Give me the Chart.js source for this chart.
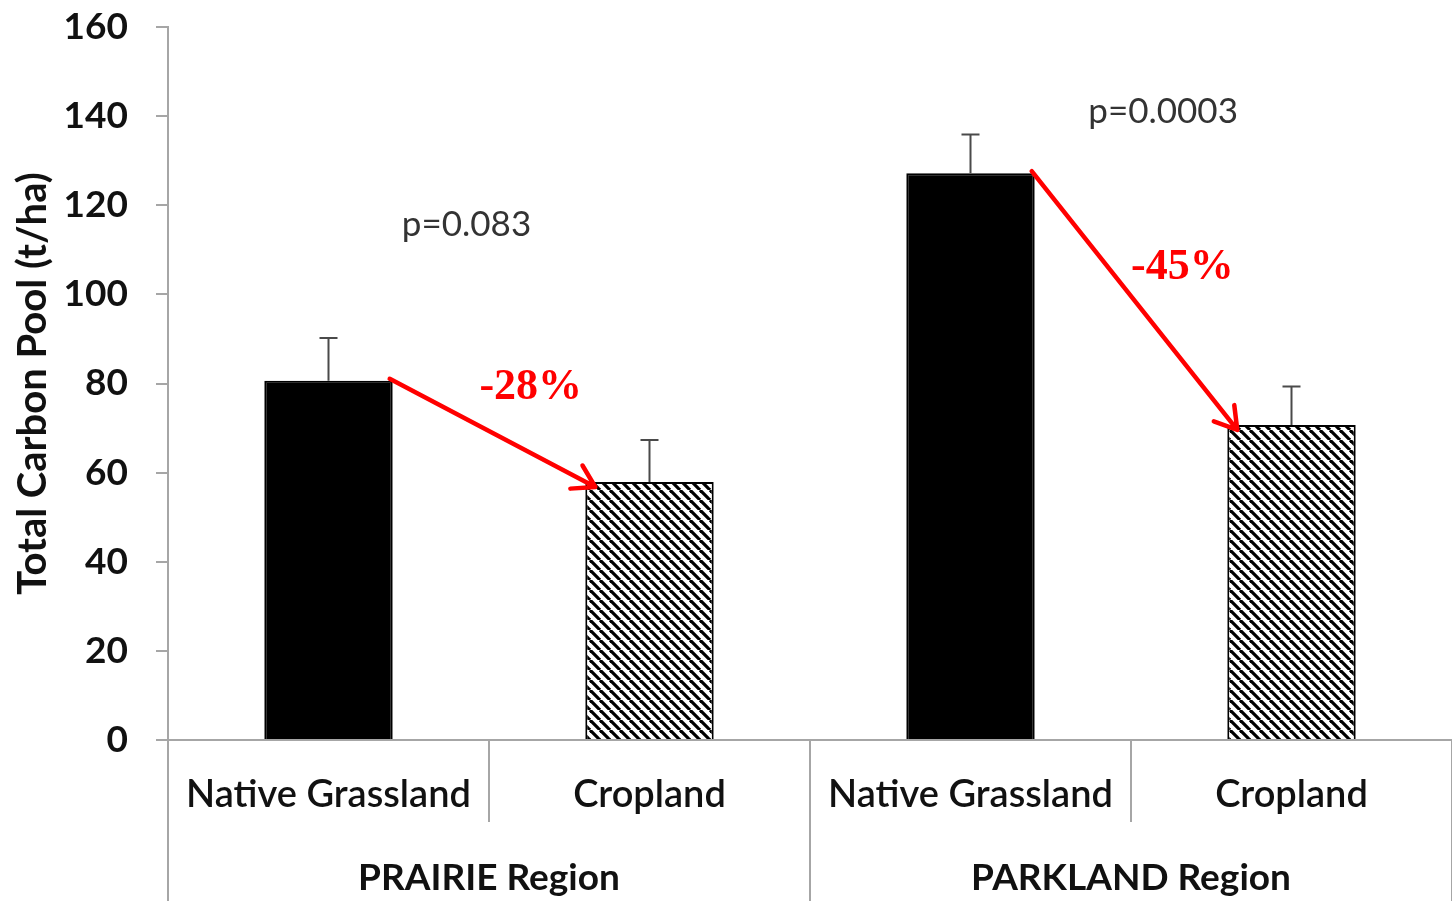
<!DOCTYPE html>
<html>
<head>
<meta charset="utf-8">
<script src="https://cdn.jsdelivr.net/npm/chart.js@4.4.1/dist/chart.umd.min.js"></script>
<style>
  html, body { margin: 0; padding: 0; background: #fff; }
  #wrap { width: 1452px; height: 901px; }
</style>
</head>
<body>
<div id="wrap"><canvas id="carbonChart"></canvas></div>
<script>
// chart data
const categories = ['Native Grassland', 'Cropland', 'Native Grassland', 'Cropland'];
const regions = ['PRAIRIE Region', 'PARKLAND Region'];
const carbonPool = [80.6, 57.9, 127.2, 70.7];
const errorUp = [9.6, 9.4, 8.7, 8.6];
const yTicks = [0, 20, 40, 60, 80, 100, 120, 140, 160];

// annotations: x as fractional category index, y in t/ha
const pLabels = [
    { text: 'p=0.083', x: 0.43, y: 115.6 },
    { text: 'p=0.0003', x: 2.6, y: 140.9 }
];
const changeLabels = [
    { text: '-28%', x: 0.63, y: 79.0, from: 0, to: 1 },
    { text: '-45%', x: 2.66, y: 105.9, from: 2, to: 3 }
];

function makeHatch() {
    const s = 10;
    const c = document.createElement('canvas');
    c.width = s; c.height = s;
    const g = c.getContext('2d');
    g.fillStyle = '#fff';
    g.fillRect(0, 0, s, s);
    g.strokeStyle = '#000';
    g.lineWidth = 3.2;
    [-s, 0, s].forEach(o => {
        g.beginPath();
        g.moveTo(o, 0);
        g.lineTo(o + s, s);
        g.stroke();
    });
    return g.createPattern(c, 'repeat');
}

const ctx = document.getElementById('carbonChart').getContext('2d');
const hatch = makeHatch();
const barFills = ['#000', hatch, '#000', hatch];

const extrasPlugin = {
    id: 'extras',
    afterDatasetsDraw(chart) {
        const c = chart.ctx;
        const xs = chart.scales.x;
        const ys = chart.scales.y;
        const meta = chart.getDatasetMeta(0);

        // error bars
        c.save();
        c.strokeStyle = '#4a4a4a';
        c.lineWidth = 2;
        meta.data.forEach((bar, i) => {
            const top = ys.getPixelForValue(carbonPool[i] + errorUp[i]);
            c.beginPath();
            c.moveTo(bar.x, bar.y);
            c.lineTo(bar.x, top);
            c.moveTo(bar.x - 9, top);
            c.lineTo(bar.x + 9, top);
            c.stroke();
        });
        c.restore();

        // p values
        c.save();
        c.fillStyle = '#333';
        c.font = '35px Lato, sans-serif';
        c.textAlign = 'center';
        c.textBaseline = 'middle';
        pLabels.forEach(p => {
            c.fillText(p.text, xs.getPixelForValue(p.x), ys.getPixelForValue(p.y));
        });
        c.restore();

        // red arrows and percent changes
        c.save();
        c.strokeStyle = '#ff0000';
        c.fillStyle = '#ff0000';
        c.lineWidth = 4.5;
        c.lineCap = 'round';
        c.lineJoin = 'round';
        changeLabels.forEach(a => {
            const b0 = meta.data[a.from];
            const b1 = meta.data[a.to];
            const x0 = b0.x + b0.width / 2 - 3;
            const y0 = b0.y - 2;
            const x1 = b1.x - b1.width / 2 + 10;
            const y1 = b1.y + 5;
            const ang = Math.atan2(y1 - y0, x1 - x0);
            c.beginPath();
            c.moveTo(x0, y0);
            c.lineTo(x1, y1);
            c.moveTo(x1 - 25 * Math.cos(ang - 0.55), y1 - 25 * Math.sin(ang - 0.55));
            c.lineTo(x1, y1);
            c.lineTo(x1 - 25 * Math.cos(ang + 0.55), y1 - 25 * Math.sin(ang + 0.55));
            c.stroke();
            c.font = 'bold 44px "Liberation Serif", serif';
            c.textAlign = 'center';
            c.textBaseline = 'middle';
            c.fillText(a.text, xs.getPixelForValue(a.x), ys.getPixelForValue(a.y));
        });
        c.restore();
    },
    afterDraw(chart) {
        // multi-level category axis: separators and region names
        const c = chart.ctx;
        const xs = chart.scales.x;
        const base = chart.chartArea.bottom;
        const bottom = chart.height;
        c.save();
        c.strokeStyle = '#a6a6a6';
        c.lineWidth = 2;
        for (let i = 0; i <= categories.length; i++) {
            const x = Math.round(xs.getPixelForValue(i - 0.5));
            const len = (i % 2 === 0) ? bottom : base + 82;
            c.beginPath();
            c.moveTo(x, base);
            c.lineTo(x, len);
            c.stroke();
        }
        c.fillStyle = '#111';
        c.font = 'bold 37px Lato, sans-serif';
        c.textAlign = 'center';
        c.textBaseline = 'middle';
        regions.forEach((r, i) => {
            c.fillText(r, xs.getPixelForValue(i * 2 + 0.5), base + 138);
        });
        c.restore();
    }
};

new Chart(ctx, {
    type: 'bar',
    data: {
        labels: categories,
        datasets: [{
            data: carbonPool,
            backgroundColor: barFills,
            borderColor: '#000',
            borderWidth: 2,
            categoryPercentage: 1.0,
            barPercentage: 0.4
        }]
    },
    options: {
        responsive: true,
        maintainAspectRatio: false,
        animation: false,
        events: [],
        layout: { padding: { top: 27, right: 0, left: 0, bottom: 0 } },
        plugins: {
            legend: { display: false },
            tooltip: { enabled: false }
        },
        scales: {
            x: {
                offset: true,
                grid: { display: false },
                border: { display: true, color: '#a6a6a6', width: 2 },
                ticks: {
                    color: '#111',
                    font: { family: 'Lato', size: 38, weight: '600' },
                    padding: 24,
                    maxRotation: 0,
                    autoSkip: false
                },
                afterFit(scale) {
                    scale.height = 161;
                    scale.paddingLeft = 0;
                    scale.paddingRight = 0;
                }
            },
            y: {
                min: 0,
                max: 160,
                afterBuildTicks(scale) {
                    scale.ticks = yTicks.map(v => ({ value: v }));
                },
                grid: {
                    drawOnChartArea: false,
                    color: '#a6a6a6',
                    lineWidth: 2,
                    tickLength: 12
                },
                border: { display: true, color: '#a6a6a6', width: 2 },
                ticks: {
                    color: '#111',
                    font: { family: 'Lato', size: 37, weight: 'bold' },
                    padding: 28
                },
                title: {
                    display: true,
                    text: 'Total Carbon Pool (t/ha)',
                    color: '#111',
                    font: { family: 'Lato', size: 40, weight: 'bold' },
                    padding: { top: 9, bottom: 0 }
                },
                afterFit(scale) {
                    scale.width = 168;
                    scale.paddingTop = 0;
                    scale.paddingBottom = 0;
                }
            }
        }
    },
    plugins: [extrasPlugin]
});
</script>
</body>
</html>
